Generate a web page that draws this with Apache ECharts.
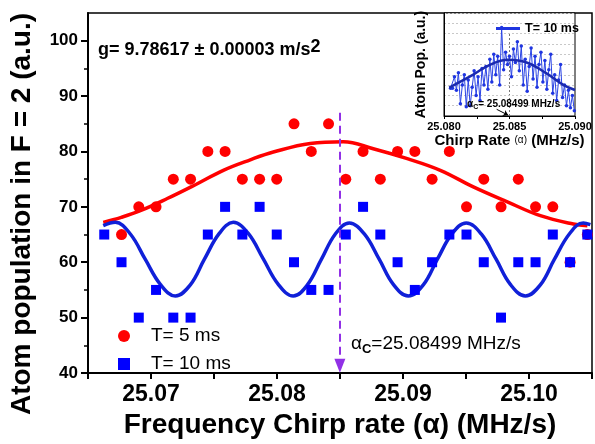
<!DOCTYPE html>
<html>
<head>
<meta charset="utf-8">
<script src="https://cdn.jsdelivr.net/npm/echarts@6/dist/echarts.min.js"></script>
<style>
  html, body { margin: 0; padding: 0; background: #fff; }
  #chart { width: 595px; height: 444px; }
</style>
</head>
<body>
<div id="chart"></div>
<script>
// main panel: chirp rate grid (MHz/s) shared by both data sets
const chirpRates = [25.06629, 25.06766, 25.06903, 25.0704, 25.07177, 25.07314, 25.07451, 25.07588,
  25.07725, 25.07862, 25.07998, 25.08135, 25.08272, 25.08409, 25.08546, 25.08683, 25.0882, 25.08957,
  25.09094, 25.09231, 25.09368, 25.09504, 25.09641, 25.09778, 25.09915, 25.10052, 25.10189, 25.10326, 25.10463];
const popT5 = [null, 65, 70, 70, 75, 75, 80, 80, 75, 75, 75, 85, 80, 85, 75, 80, 75, 80, 80, 75, 80, 70, 75, 70, 75, 70, 70, 60, 65];
const popT10 = [65, 60, 50, 55, 50, 50, 65, 70, 65, 70, 65, 60, 55, 55, 65, 70, 65, 60, 55, 60, 65, 65, 60, 50, 60, 60, 65, 60, 65];

// fitted curves
const fitT5Rates = [25.06621, 25.06764, 25.06915, 25.07129, 25.07352, 25.07574, 25.07788, 25.07971, 25.08264,
  25.08526, 25.08764, 25.09034, 25.09296, 25.09558, 25.09828, 25.1009, 25.10352, 25.10463];
const fitT5Pop = [67.2, 68.1, 69.3, 71.5, 74.0, 76.6, 78.5, 79.9, 81.45, 81.75, 80.5, 78.7, 76.6, 73.6, 70.9, 68.4, 66.9, 66.6];
const fitT10Rates = [25.06621, 25.06717, 25.06836, 25.06955, 25.07074, 25.07193, 25.07312, 25.07423, 25.07542,
  25.07653, 25.07772, 25.07891, 25.0801, 25.08129, 25.08241, 25.08352, 25.08463, 25.08574, 25.08693, 25.08812,
  25.08923, 25.09042, 25.09161, 25.09272, 25.09391, 25.09502, 25.09621, 25.0974, 25.09852, 25.09971, 25.1009,
  25.10201, 25.1032, 25.10431, 25.10487];
const fitT10Pop = [66.6, 67.2, 65.1, 60.5, 56.0, 53.9, 55.9, 60.5, 65.2, 67.2, 65.2, 60.6, 56.0, 53.9, 55.9, 60.5,
  65.1, 67.1, 65.1, 60.5, 56.0, 53.9, 55.9, 60.5, 65.2, 67.1, 65.1, 60.5, 56.0, 53.9, 55.9, 60.5, 65.1, 67.1, 66.8];

const alphaC = 25.08499;

// inset: T = 10 ms long scan (arbitrary units)
const insetRates = [25.0805, 25.08065, 25.0808, 25.08095, 25.0811, 25.08125, 25.0814, 25.08155, 25.0817, 25.08185,
  25.082, 25.08215, 25.0823, 25.08245, 25.0826, 25.08275, 25.0829, 25.08305, 25.0832, 25.08335, 25.0835, 25.08365,
  25.0838, 25.08395, 25.0841, 25.08425, 25.0844, 25.08455, 25.0847, 25.08485, 25.085, 25.08515, 25.0853, 25.08545,
  25.0856, 25.08575, 25.0859, 25.08605, 25.0862, 25.08635, 25.0865, 25.08665, 25.0868, 25.08695, 25.0871, 25.08725,
  25.0874, 25.08755, 25.0877, 25.08785, 25.088, 25.08815, 25.0883, 25.08845, 25.0886, 25.08875, 25.0889, 25.08905,
  25.0892, 25.08935, 25.0895, 25.08965, 25.0898, 25.08995];
const insetPop = [27, 27, 38, 25, 42, 12, 30, 40, 9, 35, 10, 28, 44, 20, 38, 15, 46, 30, 48, 26, 55, 33, 60, 40, 58,
  30, 86, 45, 62, 50, 58, 38, 65, 52, 72, 44, 68, 30, 55, 24, 48, 66, 36, 58, 28, 50, 62, 33, 54, 26, 45, 60, 22,
  40, 15, 35, 50, 18, 30, 10, 25, 8, 20, 5];
const insetFitRates = [25.0804, 25.0822, 25.0835, 25.0849, 25.0863, 25.0878, 25.0891, 25.09];
const insetFitPop = [27.6, 39.9, 49.7, 54.5, 51.9, 41.6, 30.2, 25.3];

// tick labels
const xTickLabels = ['25.07', '25.08', '25.09', '25.10'];
const yTickValues = [40, 50, 60, 70, 80, 90, 100];
const yMinorTickValues = [45, 55, 65, 75, 85, 95];
const insetTickLabels = ['25.080', '25.085', '25.090'];

(function () {
  const chart = echarts.init(document.getElementById('chart'));
  const font = '"Liberation Sans", Arial, sans-serif';
  const pairs = (xs, ys) => xs.map((x, i) => [x, ys[i]]);
  const pickLabel = (list) => (v) => list.find(l => Math.abs(parseFloat(l) - v) < 1e-7) || '';

  const option = {
    animation: false,
    textStyle: { fontFamily: font, color: '#000' },
    grid: [
      { left: 88, right: 3, top: 13, bottom: 71, show: true, borderColor: '#000', borderWidth: 1.5 },
      { left: 444, right: 20, top: 13, bottom: 328, show: true, backgroundColor: '#fff', borderColor: '#000', borderWidth: 1, z: 5 },
      { left: 88, right: 3, top: 13, bottom: 71 }
    ],
    xAxis: [
      {
        type: 'value', gridIndex: 0, min: 25.065, max: 25.105, interval: 0.005,
        axisLine: { lineStyle: { color: '#000', width: 2 } },
        axisTick: { length: 6, lineStyle: { color: '#000', width: 2 } },
        splitLine: { show: false },
        axisLabel: { formatter: pickLabel(xTickLabels), fontSize: 23, fontWeight: 'bold', color: '#000', margin: 10 },
        name: 'Frequency Chirp rate (α) (MHz/s)', nameLocation: 'middle', nameGap: 36,
        nameTextStyle: { fontSize: 28, fontWeight: 'bold', color: '#000' }
      },
      {
        type: 'value', gridIndex: 1, min: 25.08, max: 25.09, interval: 0.0025, z: 6,
        axisLine: { lineStyle: { color: '#000', width: 1 } },
        axisTick: { length: 3, lineStyle: { color: '#000' } },
        splitLine: { show: false },
        axisLabel: { formatter: pickLabel(insetTickLabels), fontSize: 11, fontWeight: 'bold', color: '#000', margin: 5 },
        name: '{b|Chirp Rate }{s|(α)}{b| (MHz/s)}', nameLocation: 'middle', nameGap: 14,
        nameTextStyle: {
          rich: {
            b: { fontSize: 15, fontWeight: 'bold', color: '#000', fontFamily: font },
            s: { fontSize: 10, color: '#000', fontFamily: font }
          }
        }
      },
      { type: 'value', gridIndex: 2, min: 25.065, max: 25.105, show: false }
    ],
    yAxis: [
      {
        type: 'value', gridIndex: 0, min: 40, max: 105,
        axisLine: { show: true, lineStyle: { color: '#000', width: 2 } },
        axisTick: { show: true, length: 7, customValues: yTickValues, lineStyle: { color: '#000', width: 2 } },
        splitLine: { show: false },
        axisLabel: { customValues: yTickValues, fontSize: 17, fontWeight: 'bold', color: '#000', margin: 10 },
        name: 'Atom population in F = 2 (a.u.)', nameLocation: 'middle', nameGap: 52,
        nameTextStyle: { fontSize: 28, fontWeight: 'bold', color: '#000', padding: [0, 42, 0, 0] }
      },
      {
        type: 'value', gridIndex: 1, min: 0, max: 100, interval: 10, z: 6,
        axisLine: { show: true, lineStyle: { color: '#000', width: 1 } },
        axisTick: { show: false },
        axisLabel: { show: false },
        splitLine: { show: true, lineStyle: { color: '#c8c8c8', width: 1, type: [2, 2] } },
        name: 'Atom Pop. (a.u.)', nameLocation: 'middle', nameGap: 16,
        nameTextStyle: { fontSize: 14, fontWeight: 'bold', color: '#000' }
      },
      {
        type: 'value', gridIndex: 2, min: 40, max: 105,
        axisLine: { show: false },
        axisTick: { show: true, length: 4, customValues: yMinorTickValues, lineStyle: { color: '#000', width: 1.5 } },
        axisLabel: { show: false },
        splitLine: { show: false }
      }
    ],
    legend: [
      {
        data: ['T= 5 ms', 'T= 10 ms'], orient: 'vertical', left: 113, top: 321,
        itemWidth: 12, itemHeight: 12, itemGap: 8,
        textStyle: { fontSize: 19, color: '#000', lineHeight: 20, padding: [0, 0, 0, 16] }
      },
      {
        data: ['T= 10 ms '], left: 491, top: 17, z: 10,
        icon: 'rect', itemWidth: 24, itemHeight: 3,
        textStyle: { fontSize: 12.5, fontWeight: 'bold', color: '#000' }
      }
    ],
    series: [
      {
        type: 'line', xAxisIndex: 0, yAxisIndex: 0, data: pairs(fitT5Rates, fitT5Pop),
        smooth: 0.4, showSymbol: false, lineStyle: { color: '#ff0000', width: 3.5 }, z: 2, silent: true,
        markLine: {
          silent: true, symbol: ['none', 'triangle'], symbolSize: [11, 14],
          label: { show: false },
          lineStyle: { color: '#9130e6', width: 2, type: [8, 5] },
          data: [[{ coord: [alphaC, 87] }, { coord: [alphaC, 41.3] }]]
        }
      },
      {
        type: 'line', xAxisIndex: 0, yAxisIndex: 0, data: pairs(fitT10Rates, fitT10Pop),
        smooth: 0.4, showSymbol: false, lineStyle: { color: '#1020d8', width: 3.5 }, z: 3, silent: true
      },
      {
        name: 'T= 5 ms', type: 'scatter', xAxisIndex: 0, yAxisIndex: 0,
        data: pairs(chirpRates, popT5).filter(p => p[1] != null),
        symbol: 'circle', symbolSize: 11, itemStyle: { color: '#ff0000', opacity: 1 }, z: 4
      },
      {
        name: 'T= 10 ms', type: 'scatter', xAxisIndex: 0, yAxisIndex: 0,
        data: pairs(chirpRates, popT10),
        symbol: 'rect', symbolSize: 10, itemStyle: { color: '#0000ff', opacity: 1 }, z: 5
      },
      {
        name: 'T= 10 ms ', type: 'line', xAxisIndex: 1, yAxisIndex: 1, data: pairs(insetRates, insetPop),
        symbol: 'circle', symbolSize: 3.5, lineStyle: { color: '#2a44e6', width: 1 },
        itemStyle: { color: '#1f35e0' }, z: 7
      },
      {
        type: 'line', xAxisIndex: 1, yAxisIndex: 1, data: pairs(insetFitRates, insetFitPop),
        smooth: 0.4, showSymbol: false, lineStyle: { color: '#1b2ab0', width: 2.5 }, z: 8, silent: true,
        markLine: {
          silent: true, symbol: 'none', label: { show: false },
          data: [
            [{ coord: [alphaC, 0], lineStyle: { color: '#777', width: 1, type: [2, 2] } }, { coord: [alphaC, 80] }],
            [{ coord: [25.08402, 6.5], lineStyle: { color: '#000', width: 1, type: 'solid' }, symbol: 'none' },
             { coord: [25.0849, 0.8], symbol: 'arrow', symbolSize: 5 }]
          ]
        }
      }
    ],
    graphic: [
      {
        type: 'text', left: 98, top: 38, z: 20,
        style: {
          text: '{t|g= 9.78617 ± 0.00003 m/s}{s|2}',
          rich: {
            t: { fontSize: 18, fontWeight: 'bold', fontFamily: font, fill: '#000', lineHeight: 24 },
            s: { fontSize: 18, fontWeight: 'bold', fontFamily: font, fill: '#000', lineHeight: 16, verticalAlign: 'top' }
          }
        }
      },
      {
        type: 'text', left: 351, top: 334, z: 20,
        style: {
          text: '{a|α}{c|C}{t|=25.08499 MHz/s}',
          rich: {
            a: { fontSize: 19, fontFamily: font, fill: '#000', lineHeight: 24 },
            c: { fontSize: 13, fontWeight: 'bold', fontFamily: font, fill: '#000', lineHeight: 14, verticalAlign: 'bottom' },
            t: { fontSize: 19, fontFamily: font, fill: '#000', lineHeight: 24 }
          }
        }
      },
      {
        type: 'text', left: 467, top: 99, z: 20,
        style: {
          text: '{a|α}{c|C}{t|= 25.08499 MHz/s}',
          rich: {
            a: { fontSize: 10, fontWeight: 'bold', fontFamily: font, fill: '#000', lineHeight: 13 },
            c: { fontSize: 7, fontWeight: 'bold', fontFamily: font, fill: '#000', lineHeight: 8, verticalAlign: 'bottom' },
            t: { fontSize: 10, fontWeight: 'bold', fontFamily: font, fill: '#000', lineHeight: 13 }
          }
        }
      }
    ]
  };

  chart.setOption(option);
  window.addEventListener('resize', () => chart.resize());
})();
</script>
</body>
</html>
